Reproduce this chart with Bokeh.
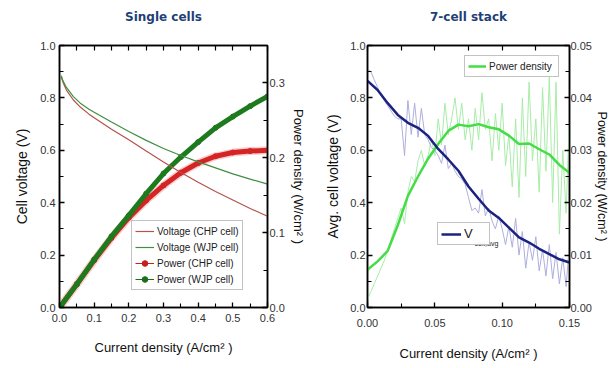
from bokeh.plotting import figure
from bokeh.models import (Range1d, LinearAxis, FixedTicker, PrintfTickFormatter,
                          Legend, LegendItem, Label)
from bokeh.layouts import row
from bokeh.embed import file_html
from bokeh.resources import INLINE

# ---------------- data: single cells ----------------
sc_current_v = [0.005, 0.01, 0.02, 0.04, 0.06, 0.085, 0.1, 0.15, 0.2, 0.25, 0.3,
                0.35, 0.4, 0.45, 0.5, 0.55, 0.6]
sc_volt_chp = [0.88, 0.86, 0.83, 0.792, 0.765, 0.738, 0.724, 0.68, 0.64, 0.597, 0.555,
               0.515, 0.478, 0.443, 0.41, 0.378, 0.348]
sc_volt_wjp = [0.885, 0.865, 0.84, 0.805, 0.78, 0.757, 0.745, 0.708, 0.672, 0.638, 0.607,
               0.58, 0.556, 0.533, 0.51, 0.49, 0.471]

sc_current_p = [0.005, 0.05, 0.1, 0.15, 0.2, 0.25, 0.3, 0.35, 0.4, 0.45, 0.5, 0.55, 0.6]
sc_power_chp = [0.003, 0.031, 0.063, 0.093, 0.12, 0.143, 0.163, 0.18, 0.193, 0.202,
                0.207, 0.209, 0.21]
sc_power_wjp = [0.003, 0.031, 0.064, 0.095, 0.123, 0.152, 0.179, 0.201, 0.221, 0.24,
                0.255, 0.269, 0.282]

# ---------------- data: 7-cell stack ----------------
st_current_avg = [0.0, 0.0075, 0.015, 0.0225, 0.03, 0.0375, 0.045, 0.0525, 0.06, 0.0675,
                  0.075, 0.0825, 0.09, 0.0975, 0.105, 0.1125, 0.12, 0.1275, 0.135,
                  0.1425, 0.15]
st_volt_avg = [0.865, 0.83, 0.78, 0.735, 0.705, 0.686, 0.655, 0.605, 0.565, 0.522,
               0.462, 0.415, 0.37, 0.342, 0.305, 0.268, 0.248, 0.224, 0.204, 0.184, 0.172]
st_power_avg = [0.0072, 0.0088, 0.0108, 0.0157, 0.0213, 0.025, 0.0284, 0.0312, 0.0337,
                0.0349, 0.0346, 0.035, 0.0344, 0.034, 0.0328, 0.0312, 0.0313, 0.0302,
                0.0292, 0.0272, 0.0257]

st_current_raw = [0.0, 0.0025, 0.005, 0.0075, 0.01, 0.0125, 0.015, 0.0175, 0.02, 0.0225,
                  0.025, 0.0275, 0.03, 0.0325, 0.035, 0.0375, 0.04, 0.0425, 0.045, 0.0475,
                  0.05, 0.0525, 0.055, 0.0575, 0.06, 0.0625, 0.065, 0.0675, 0.07, 0.0725,
                  0.075, 0.0775, 0.08, 0.0825, 0.085, 0.0875, 0.09, 0.0925, 0.095, 0.0975,
                  0.1, 0.1025, 0.105, 0.1075, 0.11, 0.1125, 0.115, 0.1175, 0.12, 0.1225,
                  0.125, 0.1275, 0.13, 0.1325, 0.135, 0.1375, 0.14, 0.1425, 0.145, 0.1475,
                  0.15]
st_volt_raw = [0.91, 0.9, 0.87, 0.84, 0.81, 0.79, 0.77, 0.75, 0.73, 0.72,
               0.72, 0.58, 0.79, 0.66, 0.78, 0.65, 0.76, 0.66, 0.64, 0.61,
               0.6, 0.58, 0.55, 0.62, 0.53, 0.55, 0.52, 0.5, 0.49, 0.47,
               0.42, 0.37, 0.38, 0.36, 0.45, 0.35, 0.38, 0.33, 0.3, 0.35,
               0.3, 0.24, 0.31, 0.23, 0.34, 0.2, 0.29, 0.15, 0.25, 0.18,
               0.27, 0.14, 0.22, 0.12, 0.24, 0.11, 0.21, 0.09, 0.19, 0.08,
               0.25]
st_power_raw = [0.0015, 0.003, 0.0045, 0.006, 0.0075, 0.009, 0.011, 0.013, 0.015, 0.017,
                0.019, 0.016, 0.022, 0.025, 0.024, 0.028, 0.03, 0.027, 0.029, 0.032,
                0.029, 0.036, 0.031, 0.039, 0.033, 0.036, 0.04, 0.034, 0.039, 0.032,
                0.036, 0.03, 0.038, 0.032, 0.041, 0.034, 0.036, 0.028, 0.037, 0.03,
                0.039, 0.027, 0.033, 0.023, 0.036, 0.021, 0.04, 0.025, 0.043, 0.028,
                0.036, 0.022, 0.042, 0.026, 0.044, 0.02, 0.043, 0.014, 0.03, 0.018,
                0.037]

# ---------------- titles and tick definitions ----------------
titles = ["Single cells", "7-cell stack"]
sc_x_ticks = [0.0, 0.1, 0.2, 0.3, 0.4, 0.5, 0.6]
sc_x_minor = [0.05, 0.15, 0.25, 0.35, 0.45, 0.55]
v_ticks = [0.0, 0.2, 0.4, 0.6, 0.8, 1.0]
v_minor = [0.1, 0.3, 0.5, 0.7, 0.9]
sc_p_ticks = [0.0, 0.1, 0.2, 0.3]
sc_p_minor = [0.05, 0.15, 0.25]
st_x_ticks = [0.0, 0.05, 0.1, 0.15]
st_x_minor = [0.025, 0.075, 0.125]
st_p_ticks = [0.0, 0.01, 0.02, 0.03, 0.04, 0.05]
st_p_minor = [0.005, 0.015, 0.025, 0.035, 0.045]

FONT = "Liberation Sans"
TITLE_COLOR = "#1f3f77"


def style_axis(ax, ticks, minor, fmt, label_size="13px", standoff=4, label_standoff=8):
    ax.ticker = FixedTicker(ticks=ticks, minor_ticks=minor)
    ax.formatter = PrintfTickFormatter(format=fmt)
    ax.axis_line_color = "black"
    ax.axis_line_width = 1.5
    ax.major_tick_in = 5
    ax.major_tick_out = 0
    ax.minor_tick_in = 4
    ax.minor_tick_out = 0
    ax.major_tick_line_color = "black"
    ax.minor_tick_line_color = "black"
    ax.major_tick_line_width = 1.3
    ax.minor_tick_line_width = 1.1
    ax.major_label_text_font = FONT
    ax.major_label_text_font_size = "11px"
    ax.major_label_text_color = "#333333"
    ax.major_label_standoff = standoff
    ax.axis_label_text_font = FONT
    ax.axis_label_text_font_size = label_size
    ax.axis_label_text_font_style = "normal"
    ax.axis_label_text_color = "#111111"
    ax.axis_label_standoff = label_standoff


def top_title_axis(all_ticks, title):
    # tick marks along the top edge (every tick is a minor tick, so no tick labels);
    # the panel title is carried as this axis' label
    ax = LinearAxis(axis_label=title)
    ax.ticker = FixedTicker(ticks=[], minor_ticks=all_ticks)
    ax.axis_line_color = "black"
    ax.axis_line_width = 1.5
    ax.major_tick_in = 0
    ax.major_tick_out = 0
    ax.minor_tick_in = 5
    ax.minor_tick_out = 0
    ax.minor_tick_line_color = "black"
    ax.minor_tick_line_width = 1.2
    ax.major_label_standoff = 0
    ax.axis_label_text_font = "DejaVu Sans"
    ax.axis_label_text_font_size = "12px"
    ax.axis_label_text_font_style = "bold"
    ax.axis_label_text_color = TITLE_COLOR
    ax.axis_label_standoff = 22
    return ax


def style_legend(lg, font_size, glyph_w, label_w=None, spacing=0):
    lg.padding = 3
    lg.spacing = spacing
    lg.margin = 0
    lg.glyph_width = glyph_w
    lg.glyph_height = 14
    lg.label_height = 14
    if label_w:
        lg.label_width = label_w
    lg.label_standoff = 3
    lg.label_text_font = FONT
    lg.label_text_font_size = font_size
    lg.label_text_color = "#222222"
    lg.border_line_color = "#888888"
    lg.border_line_width = 1


# ======================= Single cells =======================
p1 = figure(width=310, height=368, x_range=Range1d(0, 0.6), y_range=Range1d(0, 1),
            output_backend="svg", toolbar_location=None,
            min_border_left=59, min_border_right=43, min_border_top=45,
            min_border_bottom=61)
p1.extra_y_ranges = {"pw": Range1d(0, 0.35)}
p1.grid.visible = False
p1.outline_line_color = "black"
p1.outline_line_width = 1.5

style_axis(p1.xaxis[0], sc_x_ticks, sc_x_minor, "%.1f", standoff=6, label_standoff=15)
p1.xaxis[0].axis_label = "Current density (A/cm² )"
style_axis(p1.yaxis[0], v_ticks, v_minor, "%.1f", label_size="14px", label_standoff=7)
p1.yaxis[0].axis_label = "Cell voltage (V)"

ax_r1 = LinearAxis(y_range_name="pw", axis_label="Power density (W/cm² )")
style_axis(ax_r1, sc_p_ticks, sc_p_minor, "%.1f", standoff=2, label_standoff=3)
p1.add_layout(ax_r1, "right")
p1.add_layout(top_title_axis(sorted(sc_x_ticks + sc_x_minor), titles[0]), "above")

# power curves (thick, made of dense markers in the original)
p1.line(sc_current_p, sc_power_chp, y_range_name="pw", line_color="#f4a0a0",
        line_width=8, line_alpha=0.5)
pc_dot = p1.scatter(sc_current_p, sc_power_chp, y_range_name="pw", size=5,
                    color="#c81e1e")
pc_thin = p1.line(sc_current_p, sc_power_chp, y_range_name="pw",
                  line_color="#c81e1e", line_width=1)
p1.line(sc_current_p, sc_power_chp, y_range_name="pw", line_color="#d42424",
        line_width=5)
pw_dot = p1.scatter(sc_current_p, sc_power_wjp, y_range_name="pw", size=5,
                    color="#1a6e1a")
pw_thin = p1.line(sc_current_p, sc_power_wjp, y_range_name="pw",
                  line_color="#1a6e1a", line_width=1)
p1.line(sc_current_p, sc_power_wjp, y_range_name="pw", line_color="#1d7a1d",
        line_width=5)

# voltage curves
vc = p1.line(sc_current_v, sc_volt_chp, line_color="#b5524b", line_width=1.2)
vw = p1.line(sc_current_v, sc_volt_wjp, line_color="#3f8f3f", line_width=1.2)

leg1 = Legend(items=[
    LegendItem(label="Voltage (CHP cell)", renderers=[vc]),
    LegendItem(label="Voltage (WJP cell)", renderers=[vw]),
    LegendItem(label="Power (CHP cell)", renderers=[pc_thin, pc_dot]),
    LegendItem(label="Power (WJP cell)", renderers=[pw_thin, pw_dot]),
], location=(72, 17))
style_legend(leg1, "10px", 19, spacing=2)
p1.add_layout(leg1)

# ======================= 7-cell stack =======================
p2 = figure(width=301, height=368, x_range=Range1d(0, 0.15), y_range=Range1d(0, 1),
            output_backend="svg", toolbar_location=None,
            min_border_left=57, min_border_right=42, min_border_top=45,
            min_border_bottom=56)
p2.extra_y_ranges = {"pw": Range1d(0, 0.05)}
p2.grid.visible = False
p2.outline_line_color = "black"
p2.outline_line_width = 1.5

style_axis(p2.xaxis[0], st_x_ticks, st_x_minor, "%.2f", standoff=11, label_standoff=16)
p2.xaxis[0].axis_label = "Current density (A/cm² )"
style_axis(p2.yaxis[0], v_ticks, v_minor, "%.1f", label_size="14px", standoff=2,
           label_standoff=6)
p2.yaxis[0].axis_label = "Avg. cell voltage (V)"

ax_r2 = LinearAxis(y_range_name="pw", axis_label="Power density (W/cm² )")
style_axis(ax_r2, st_p_ticks, st_p_minor, "%.2f", label_size="12.5px", standoff=1,
           label_standoff=0)
p2.add_layout(ax_r2, "right")
p2.add_layout(top_title_axis(sorted(st_x_ticks + st_x_minor), titles[1]), "above")

p2.line(st_current_raw, st_power_raw, y_range_name="pw", line_color="#a8eca8",
        line_width=1)
p2.line(st_current_raw, st_volt_raw, line_color="#aeaede", line_width=1)
pd = p2.line(st_current_avg, st_power_avg, y_range_name="pw", line_color="#45dc45",
             line_width=2.5)
va = p2.line(st_current_avg, st_volt_avg, line_color="#1c2280", line_width=2.5)

leg2 = Legend(items=[LegendItem(label="Power density", renderers=[pd])],
              location=(97, 230))
style_legend(leg2, "10px", 18, label_w=66)
leg3 = Legend(items=[LegendItem(label="V", renderers=[va])], location=(70, 62))
style_legend(leg3, "13px", 20, label_w=22)
p2.add_layout(leg2)
p2.add_layout(leg3)
sub = Label(x=0.0795, y=0.245, text="cell,avg", text_font=FONT,
            text_font_size="7px", text_color="#222222", text_baseline="middle",
            level="overlay")
p2.add_layout(sub)

layout = row(p1, p2)
open("out.html", "w").write(file_html(layout, INLINE))
